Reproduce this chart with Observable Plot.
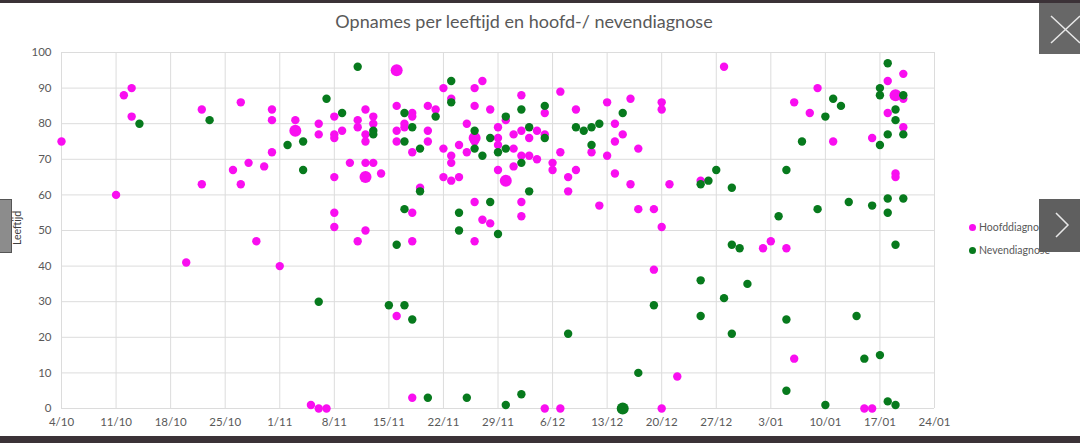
<!DOCTYPE html>
<html>
<head>
<meta charset="utf-8">
<script src="https://cdn.jsdelivr.net/npm/d3@7"></script>
<script src="https://cdn.jsdelivr.net/npm/@observablehq/plot@0.6"></script>
<style>
  html, body { margin:0; padding:0; }
  body { width:1080px; height:443px; overflow:hidden; background:#fff; position:relative; font-family: Lato, "Open Sans", sans-serif; }
  .abs { position:absolute; }
</style>
</head>
<body>
<div id="chart" class="abs" style="left:0;top:0"></div>
<div class="abs" style="left:0;top:0;width:1080px;height:3px;background:#3b3237"></div>
<div class="abs" style="left:0;top:436px;width:1080px;height:7px;background:#3b3237"></div>
<div class="abs" style="left:0;top:10px;width:1048px;text-align:center;font-size:18px;color:#595959">Opnames per leeftijd en hoofd-/ nevendiagnose</div>
<div class="abs" style="left:-13px;top:222px;width:60px;height:12px;transform:rotate(-90deg);font-size:10.5px;color:#404040;text-align:center;line-height:12px">Leeftijd</div>
<div class="abs" style="left:0;top:199px;width:11px;height:52px;background:#8c8c8c;border:1px solid #555;border-left:none"></div>
<div id="legend" class="abs" style="left:969px;top:216px;font-size:10.5px;color:#595959;line-height:23px"></div>
<div class="abs" style="left:1039px;top:199px;width:41px;height:53px;background:#5f5f5f">
  <svg width="41" height="53"><polyline points="17,14 29,26 17,38" fill="none" stroke="#e8e8e8" stroke-width="1.5"/></svg>
</div>
<div class="abs" style="left:1039px;top:3px;width:41px;height:51px;background:#676767">
  <svg width="41" height="51"><line x1="12" y1="13" x2="41" y2="40" stroke="#e8e8e8" stroke-width="1.5"/><line x1="12" y1="40" x2="41" y2="13" stroke="#e8e8e8" stroke-width="1.5"/></svg>
</div>
<script>
// Hoofddiagnose: [datum (d/mm), leeftijd, aantal]
const hoofddiagnose = [
["4/10",75],["11/10",60],["12/10",88],["13/10",90],["13/10",82],["20/10",41],["22/10",84],["22/10",63],["26/10",67],["27/10",86],["27/10",63],["28/10",69],["29/10",47],["30/10",68],["31/10",84],["31/10",81],["31/10",72],["1/11",40],["3/11",81],["3/11",78,2],["5/11",1],["6/11",0],["7/11",0],["6/11",80],["6/11",77],["8/11",82],["8/11",77],["8/11",76],["8/11",65],["8/11",55],["8/11",51],["9/11",78],["10/11",69],["11/11",81],["11/11",79],["11/11",47],["12/11",84],["12/11",77],["12/11",75],["12/11",69],["12/11",65,2],["12/11",50],["13/11",82],["13/11",80],["13/11",69],["14/11",66],["16/11",95,2],["16/11",85],["16/11",78],["16/11",75],["16/11",26],["17/11",80],["17/11",79],["18/11",83],["18/11",82],["18/11",72],["18/11",55],["18/11",47],["18/11",3],["19/11",62],["20/11",85],["20/11",78],["20/11",75],["21/11",84],["22/11",90],["22/11",73],["22/11",65],["23/11",87],["23/11",71],["23/11",69],["23/11",64],["24/11",74],["24/11",65],["25/11",80],["25/11",72],["26/11",90],["26/11",85],["26/11",76,2],["26/11",75],["26/11",58],["26/11",47],["27/11",92],["27/11",53],["28/11",84],["28/11",52],["29/11",79],["29/11",76],["29/11",74],["29/11",67],["30/11",81],["30/11",64,2],["1/12",77],["1/12",73],["1/12",68],["2/12",88],["2/12",78],["2/12",71],["2/12",58],["2/12",54],["3/12",76],["3/12",71],["4/12",78],["4/12",70],["5/12",83],["5/12",77],["5/12",0],["6/12",69],["6/12",67],["7/12",89],["7/12",72],["7/12",0],["8/12",65],["8/12",61],["9/12",84],["9/12",67],["11/12",72],["12/12",57],["13/12",86],["13/12",71],["14/12",80],["14/12",75],["14/12",66],["15/12",77],["16/12",87],["16/12",63],["17/12",73],["17/12",56],["19/12",56],["19/12",39],["20/12",86],["20/12",84],["20/12",51],["20/12",0],["21/12",63],["22/12",9],["25/12",64],["28/12",96],["2/01",45],["3/01",47],["5/01",45],["6/01",86],["6/01",14],["8/01",83],["9/01",90],["11/01",75],["15/01",0],["16/01",0],["16/01",76],["18/01",92],["18/01",83],["19/01",88,2],["19/01",66],["19/01",65],["20/01",94],["20/01",87],["20/01",79]
];
// Nevendiagnose: [datum (d/mm), leeftijd, aantal]
const nevendiagnose = [
["14/10",80],["23/10",81],["2/11",74],["4/11",75],["4/11",67],["6/11",30],["7/11",87],["9/11",83],["11/11",96],["13/11",78],["13/11",77],["15/11",29],["16/11",46],["17/11",83],["17/11",75],["17/11",56],["17/11",29],["18/11",79],["18/11",25],["19/11",73],["19/11",61],["20/11",3],["21/11",82],["23/11",92],["23/11",86],["24/11",55],["24/11",50],["25/11",3],["26/11",78],["26/11",73],["27/11",71],["28/11",76],["28/11",58],["29/11",72],["29/11",49],["30/11",82],["30/11",73],["30/11",1],["2/12",84],["2/12",69],["2/12",4],["3/12",79],["3/12",61],["5/12",85],["5/12",76],["8/12",21],["9/12",79],["10/12",78],["11/12",79],["11/12",74],["12/12",80],["15/12",83],["15/12",0,2],["17/12",10],["19/12",29],["25/12",63],["25/12",36],["25/12",26],["26/12",64],["27/12",67],["28/12",31],["29/12",62],["29/12",46],["29/12",21],["30/12",45],["31/12",35],["4/01",54],["5/01",67],["5/01",25],["5/01",5],["7/01",75],["9/01",56],["10/01",82],["10/01",1],["11/01",87],["12/01",85],["13/01",58],["14/01",26],["15/01",14],["16/01",57],["17/01",90],["17/01",88],["17/01",74],["17/01",15],["18/01",97],["18/01",77],["18/01",59],["18/01",55],["18/01",2],["19/01",84],["19/01",81],["19/01",46],["19/01",1],["20/01",88],["20/01",77],["20/01",59]
];
const xTickLabels = ["4/10","11/10","18/10","25/10","1/11","8/11","15/11","22/11","29/11","6/12","13/12","20/12","27/12","3/01","10/01","17/01","24/01"];
const yTicks = [0,10,20,30,40,50,60,70,80,90,100];
const series = ["Hoofddiagnose","Nevendiagnose"];
const colors = ["#f90ef0","#077a1d"];

function parseDM(s) {
  const [d, m] = s.split("/").map(Number);
  return new Date(Date.UTC(m >= 10 ? 2021 : 2022, m - 1, d));
}
const toRows = (arr, s) => arr.map(([dm, age, n]) => ({date: parseDM(dm), age, n: n || 1, series: s}));
const hRows = toRows(hoofddiagnose, series[0]);
const nRows = toRows(nevendiagnose, series[1]);
const xTicks = xTickLabels.map(parseDM);
const labelOf = new Map(xTicks.map((d, i) => [+d, xTickLabels[i]]));

const chart = Plot.plot({
  width: 1080, height: 443,
  marginLeft: 61, marginRight: 146, marginTop: 52, marginBottom: 35,
  style: {fontFamily: "Lato, 'Open Sans', sans-serif", fontSize: "11.5px", color: "#595959", background: "transparent"},
  x: {type: "utc", domain: [xTicks[0], xTicks[xTicks.length - 1]], ticks: xTicks, tickFormat: d => labelOf.get(+d), tickSize: 0, tickPadding: 9, label: null},
  y: {domain: [0, 100], ticks: yTicks, tickSize: 0, tickPadding: 10, label: null},
  r: {type: "linear", domain: [1, 2], range: [4.2, 6]},
  color: {domain: series, range: colors},
  marks: [
    Plot.gridX(xTicks, {stroke: "#dcdcdc", strokeOpacity: 1}),
    Plot.gridY(yTicks, {stroke: "#dcdcdc", strokeOpacity: 1}),
    Plot.dot(hRows, {x: "date", y: "age", r: "n", fill: "series"}),
    Plot.dot(nRows, {x: "date", y: "age", r: "n", fill: "series"})
  ]
});
document.getElementById("chart").appendChild(chart);

const legend = document.getElementById("legend");
series.forEach((s, i) => {
  const row = document.createElement("div");
  row.style.cssText = "display:flex;align-items:center;height:23px";
  row.innerHTML = `<span style="display:inline-block;width:7px;height:7px;border-radius:50%;background:${colors[i]};margin-right:3px"></span><span>${s}</span>`;
  legend.appendChild(row);
});
</script>
</body>
</html>
